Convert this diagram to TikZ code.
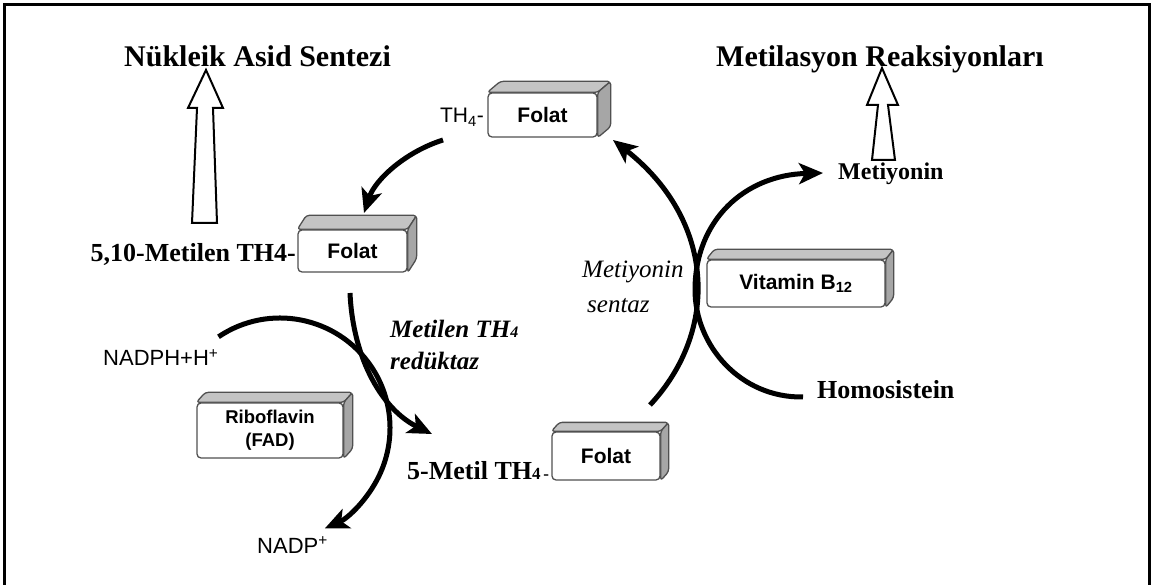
\documentclass[tikz,border=0pt]{standalone}
\usepackage{fontspec}
\setmainfont{Liberation Serif}
\setsansfont{Liberation Sans}
\usetikzlibrary{arrows.meta,calc}
\pgfdeclarelayer{background}
\pgfsetlayers{background,main}
\definecolor{boxline}{HTML}{505050}
\definecolor{topgray}{HTML}{C4C4C4}
\definecolor{sidegray}{HTML}{A6A6A6}
\newcommand{\boxdepth}[3]{%
  \begin{pgfonlayer}{background}
  \filldraw[topface] (#1.north west) -- ++(#2,#3) -- ($(#1.north east)+(#2,#3)$) -- (#1.north east) -- cycle;
  \filldraw[sideface] (#1.north east) -- ++(#2,#3) -- ($(#1.south east)+(#2,#3)$) -- (#1.south east) -- cycle;
  \end{pgfonlayer}}
\tikzset{
  box/.style={draw=boxline, line width=1.3pt, fill=white, rounded corners=4pt,
    font=\sffamily\bfseries\fontsize{21}{23}\selectfont, inner sep=0pt, align=center},
  topface/.style={draw=boxline, line width=1.3pt, fill=topgray, rounded corners=3pt, line join=round},
  sideface/.style={draw=boxline, line width=1.3pt, fill=sidegray, rounded corners=3pt, line join=round},
  title/.style={font=\bfseries\fontsize{30}{32}\selectfont, inner sep=0pt},
  lab/.style={font=\bfseries\fontsize{26}{28}\selectfont, inner sep=0pt},
  enz/.style={font=\itshape\fontsize{25}{30}\selectfont, inner sep=0pt},
  enzb/.style={font=\bfseries\itshape\fontsize{25}{30}\selectfont, inner sep=0pt},
  sans/.style={font=\sffamily\fontsize{22}{24}\selectfont, inner sep=0pt},
  flow/.style={line width=5pt, -{Stealth[length=24pt,width=21pt,inset=6pt]}},
  hollow/.style={draw, line width=2pt, line join=miter},
}
\begin{document}
\begin{tikzpicture}[x=1pt,y=-1pt]
\useasboundingbox (0,0) rectangle (1152,585);
% frame
\draw[line width=3pt] (4,585) -- (4,5) -- (1149,5) -- (1149,585);

% titles
\node[title, anchor=base west] (nuk) at (124,67) {Nükleik Asid Sentezi};
\node[title, anchor=base west] (metr) at (716,67) {Metilasyon Reaksiyonları};

% hollow block arrows
\draw[hollow] (192,223) -- (197,108) -- (188,108) -- (206,70) -- (223,108) -- (213,108) -- (217,223) -- cycle;
\draw[hollow] (872,160) -- (878,105) -- (867,105) -- (882,68) -- (898,105) -- (888,105) -- (895,160) -- cycle;

% boxes
\node[box, minimum width=109pt, minimum height=44pt] (f1) at (542.5,115) {Folat};
\boxdepth{f1}{13}{-11}
\node[sans, font=\sffamily\fontsize{21}{23}\selectfont, anchor=base east] (th1) at (484,123) {TH\textsubscript{4}-};

\node[box, minimum width=109pt, minimum height=42pt] (f2) at (352.5,251) {Folat};
\boxdepth{f2}{9}{-14}
\node[lab, anchor=base east] (mth) at (296,262) {5,10-Metilen TH4-};

\node[box, minimum width=108pt, minimum height=48pt] (f3) at (606,456) {Folat};
\boxdepth{f3}{8}{-9}
\node[lab, anchor=base west] (mt5) at (407,479) {5-Metil TH{\fontsize{17}{17}\selectfont 4\,-}};

\node[box, minimum width=178pt, minimum height=47pt] (b12) at (796,283.5) {Vitamin B\textsubscript{12}};
\boxdepth{b12}{8}{-10}

\node[box, minimum width=146pt, minimum height=55pt,
  font=\sffamily\bfseries\fontsize{18.5}{23}\selectfont] (rib) at (270,430.5) {Riboflavin\\(FAD)};
\boxdepth{rib}{9}{-10}

% labels
\node[lab, font=\bfseries\fontsize{24}{26}\selectfont, anchor=base west] (mty) at (838,180) {Metiyonin};
\node[lab, anchor=base west] (hom) at (817,399) {Homosistein};
\node[enz, anchor=base west] (ms1) at (582,278) {Metiyonin};
\node[enz, anchor=base west] (ms2) at (587,313) {sentaz};
\node[enzb, anchor=base west] (mr1) at (390,338) {Metilen TH{\fontsize{16}{16}\selectfont 4}};
\node[enzb, anchor=base west] (mr2) at (390,370) {redüktaz};
\node[sans, anchor=base west] (nadph) at (103,366) {NADPH+H\textsuperscript{+}};
\node[sans, anchor=base west] (nadp) at (257,553) {NADP\textsuperscript{+}};

% connector end points
\coordinate (a1s) at (443,140);
\coordinate (a1e) at (364,213);
\coordinate (a2s) at (350,293);
\coordinate (a2e) at (432,434);
\coordinate (a3s) at (218.5,336.8);
\coordinate (a4s) at (650,405);
\coordinate (a4e) at (613,140);
\coordinate (a5s) at (803,397);
\coordinate (a5m) at (695,290);
\coordinate (a5e) at (823,173);

% connectors
\draw[flow] (a1s) .. controls (405,152) and (375,180) .. (a1e);
\draw[flow] (a2s) .. controls (353,360) and (383,410) .. (a2e);
\draw[flow] (a3s) arc[start angle=236, end angle=426, radius=110];
\draw[flow] (a4s) .. controls (720,330) and (715,220) .. (a4e);
\draw[flow] (a5s) .. controls (740,398) and (695,345) .. (a5m) .. controls (695,220) and (745,175) .. (a5e);
\end{tikzpicture}
\end{document}
